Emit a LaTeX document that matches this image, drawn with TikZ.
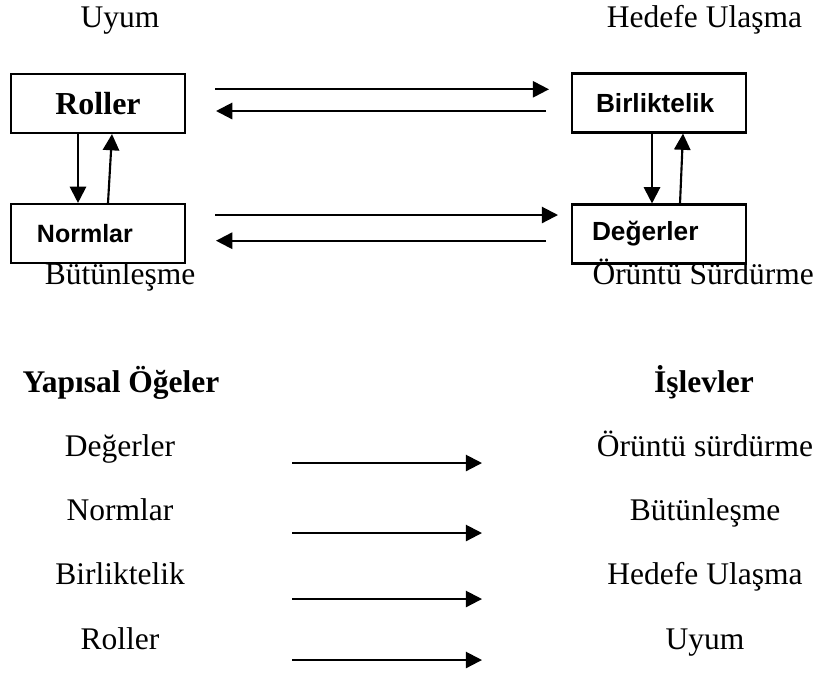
\documentclass[tikz,border=0pt]{standalone}
\usepackage{fontspec}
\setmainfont{Liberation Serif}
\newfontfamily\arialfont{Liberation Sans}
\usepackage{tikz}
\usetikzlibrary{arrows.meta}
\usetikzlibrary{positioning}

\tikzset{
    box/.style={draw, line width=0.85pt, minimum width=69.6pt, minimum height=23.6pt, inner sep=0pt},
    sansbox/.style={box, font=\arialfont\bfseries\fontsize{10.5}{12}\selectfont, align=left},
    arr/.style={-{Triangle[length=6.5pt,width=6.5pt]}, line width=0.85pt},
    lbl/.style={anchor=base, inner sep=0pt, font=\fontsize{12.6}{15}\selectfont}
}

\begin{document}
\begin{tikzpicture}[x=0.4pt, y=-0.4pt]
        \useasboundingbox (0,0) rectangle (817,675);
        % AGIL boxes
        \node[box, font=\bfseries\fontsize{12.8}{15}\selectfont] (roller) at (98,103.5) {Roller};
        \node[sansbox, font=\arialfont\bfseries\fontsize{10}{12}\selectfont, inner xsep=10.4pt, text width=48.8pt] (normlar) at (98,233.5) {Normlar};
        \node[sansbox, inner xsep=9.6pt, text width=50.4pt] (birlik) at (659,103) {Birliktelik};
        \node[sansbox, inner xsep=8pt, text width=53.6pt] (degerler) at (659,234) {Değerler};

        % function names
        \node[lbl] (uyum) at (120,27) {Uyum};
        \node[lbl] (hedef) at (704.5,27) {Hedefe Ulaşma};
        \node[lbl] (butun) at (120,284) {Bütünleşme};
        \node[lbl, anchor=base west] (oruntu) at (592,284) {Örüntü Sürdürme};

        % horizontal exchanges
        \coordinate (r1) at (215,89.3);  \coordinate (b1) at (549,89.3);
        \coordinate (b2) at (546,111);   \coordinate (r2) at (216,111);
        \coordinate (n1) at (215,215);   \coordinate (d1) at (558,215);
        \coordinate (d2) at (546,240.7); \coordinate (n2) at (216,240.7);
        \draw[arr] (r1) -- (b1);
        \draw[arr] (b2) -- (r2);
        \draw[arr] (n1) -- (d1);
        \draw[arr] (d2) -- (n2);

        % vertical exchanges
        \draw[arr] (78,0 |- roller.south) -- (78,0 |- normlar.north);
        \draw[arr] (108,0 |- normlar.north) -- (112,0 |- roller.south);
        \draw[arr] (652,0 |- birlik.south) -- (652,0 |- degerler.north);
        \draw[arr] (680,0 |- degerler.north) -- (683,0 |- birlik.south);

        % table of elements and functions
        \node[lbl, font=\bfseries\fontsize{12.6}{15}\selectfont] (yapisal) at (121,392) {Yapısal Öğeler};
        \node[lbl, font=\bfseries\fontsize{12.6}{15}\selectfont] (islev) at (704,392) {İşlevler};
        \foreach \left/\right/\y/\ay [count=\i] in {
            Değerler/Örüntü sürdürme/456/463,
            Normlar/Bütünleşme/520/533,
            Birliktelik/Hedefe Ulaşma/584/599,
            Roller/Uyum/649/660
        } {
            \node[lbl] (L\i) at (120,\y) {\left};
            \node[lbl] (R\i) at (705,\y) {\right};
            \coordinate (s\i) at (292,\ay);
            \coordinate (e\i) at (482,\ay);
            \draw[arr] (s\i) -- (e\i);
        }
    \end{tikzpicture}
\end{document}
